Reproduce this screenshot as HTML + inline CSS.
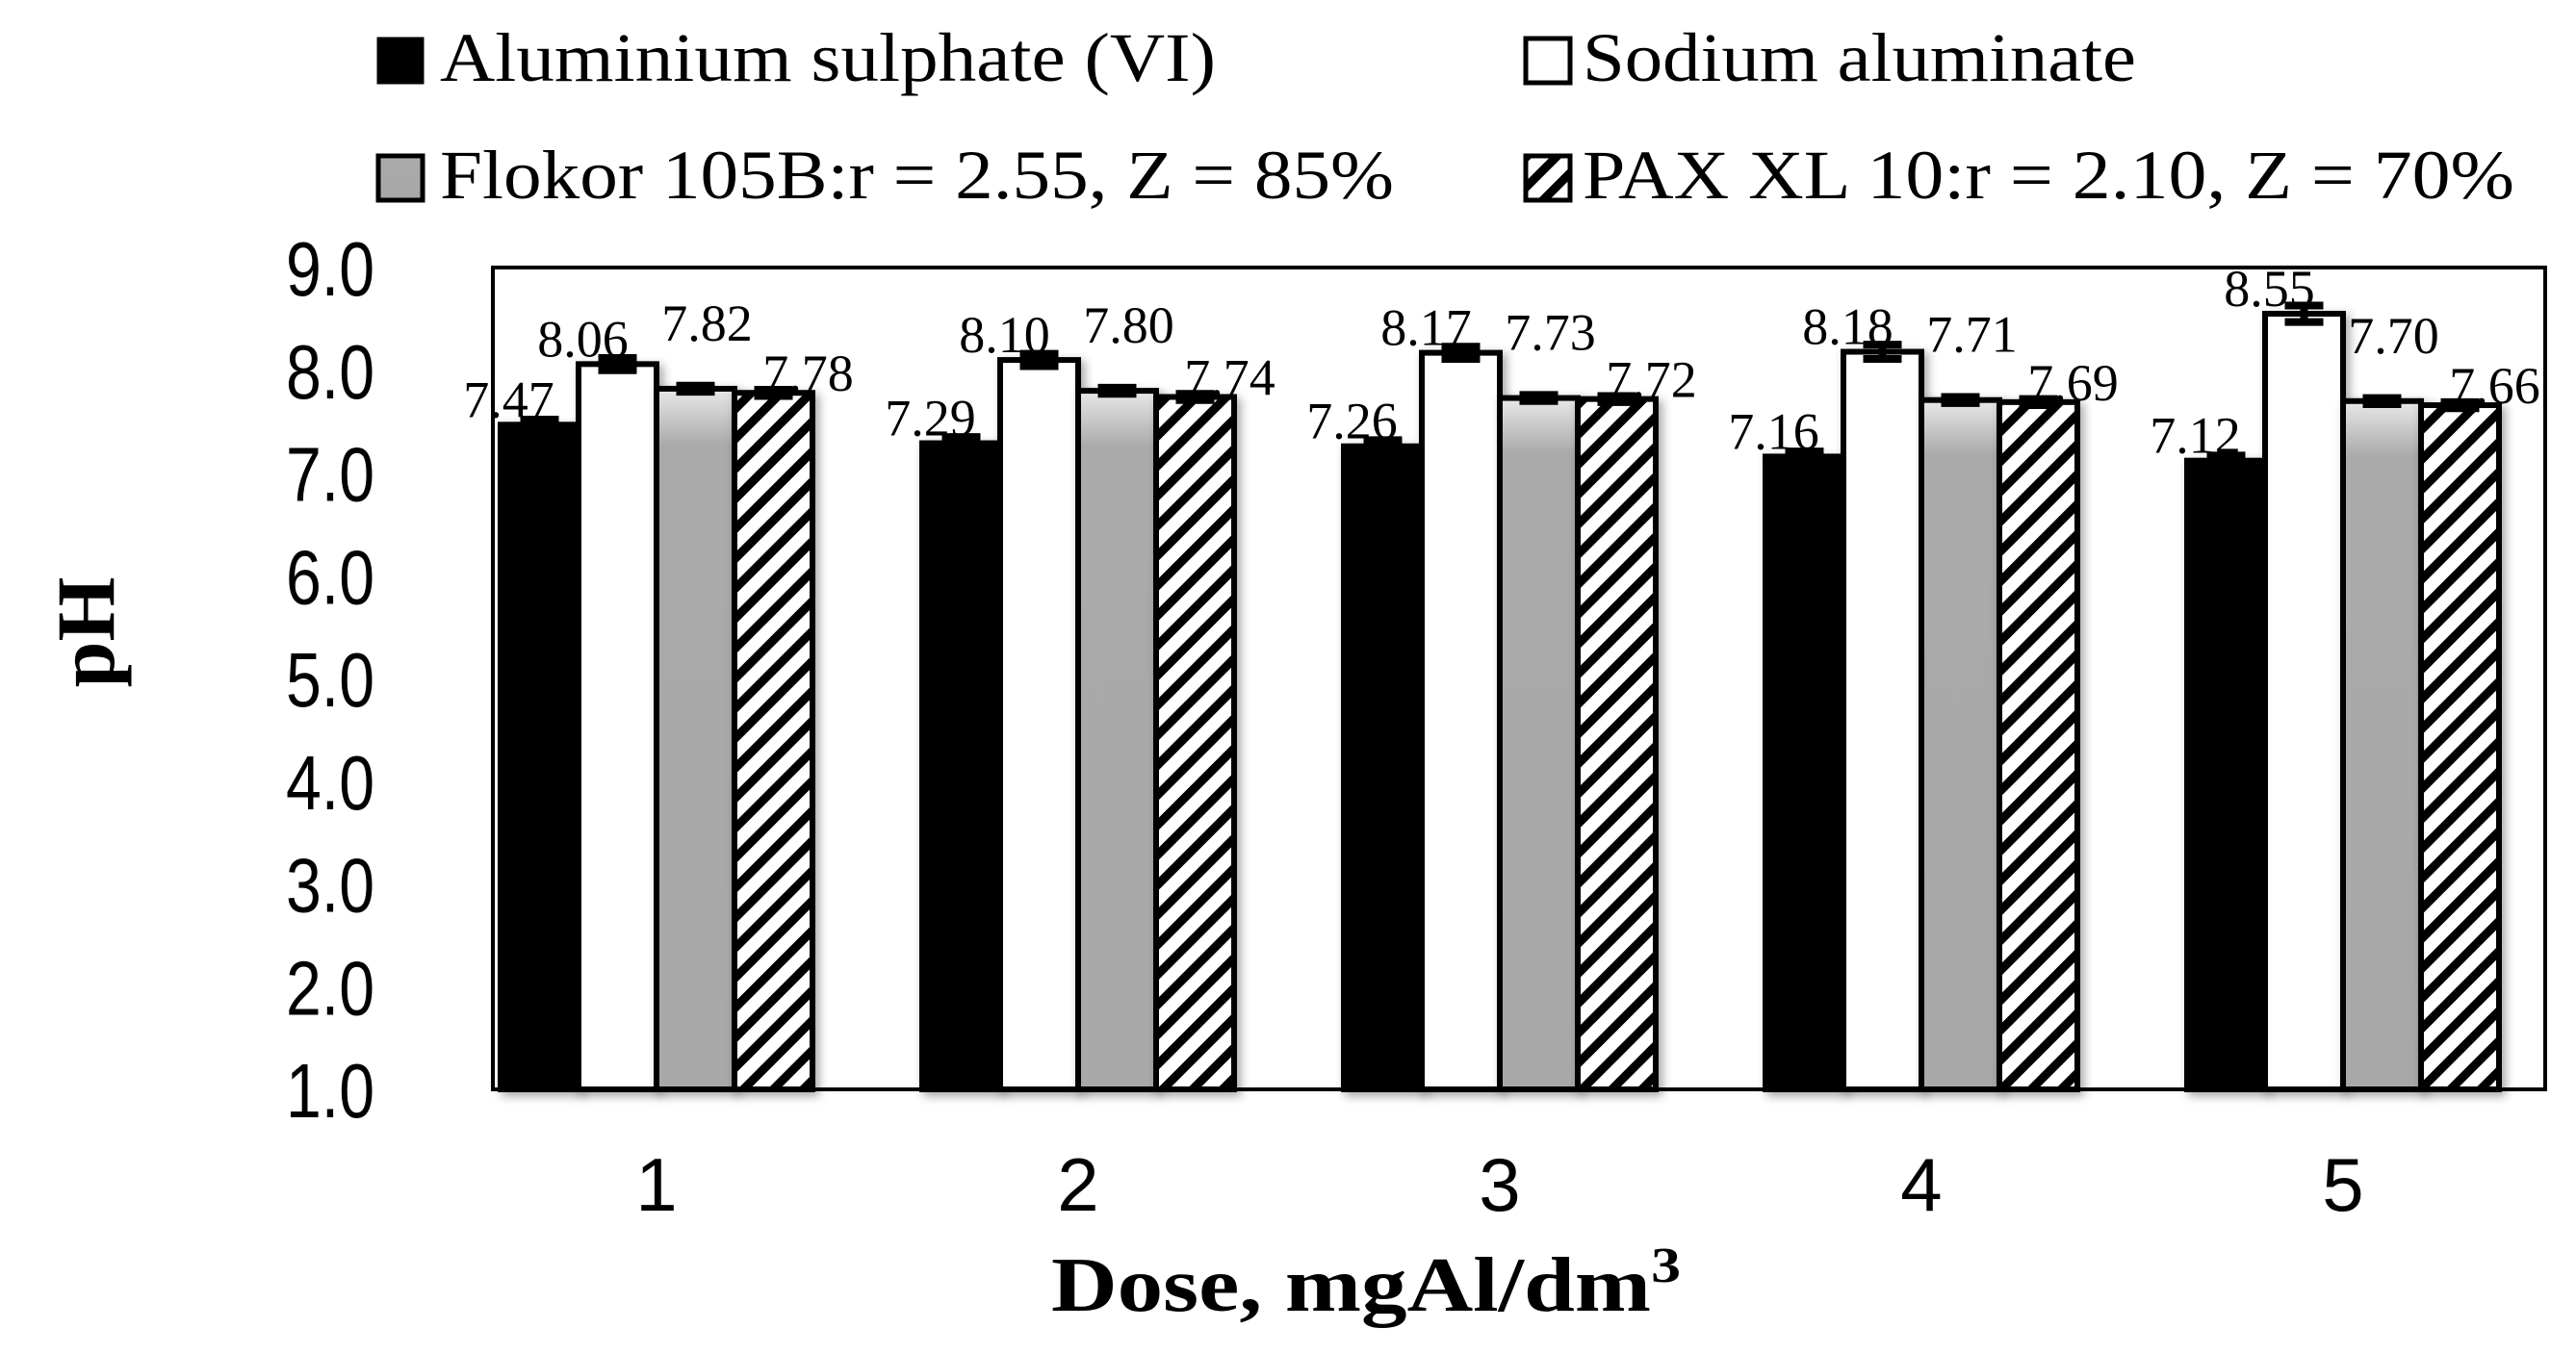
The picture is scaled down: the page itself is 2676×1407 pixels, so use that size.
<!DOCTYPE html>
<html><head><meta charset="utf-8"><style>
html,body{margin:0;padding:0;background:#fff;}
svg{display:block;}
</style></head><body>
<svg id="chart" width="2676" height="1407" viewBox="0 0 2676 1407" xmlns="http://www.w3.org/2000/svg">
<defs>
<pattern id="hatch" patternUnits="userSpaceOnUse" width="22" height="22" patternTransform="rotate(45)">
<rect width="22" height="22" fill="#fff"/>
<rect x="0" y="0" width="9" height="22" fill="#000"/>
</pattern>
<linearGradient id="grayTop" x1="0" y1="0" x2="0" y2="1">
<stop offset="0" stop-color="#e8e8e8"/><stop offset="0.08" stop-color="#aaaaaa"/><stop offset="1" stop-color="#a8a8a8"/>
</linearGradient>
<filter id="shadow" x="-20%" y="-5%" width="140%" height="110%"><feDropShadow dx="4" dy="4" stdDeviation="5" flood-color="#000" flood-opacity="0.35"/></filter>
</defs>
<g id="legend">
<g>
<rect x="393" y="40" width="46" height="46" fill="#000" stroke="#000" stroke-width="3"/>
<text x="457" y="84" font-family="Liberation Serif, serif" font-size="72" textLength="806" lengthAdjust="spacingAndGlyphs">Aluminium sulphate (VI)</text></g>
<g>
<rect x="1585" y="40" width="46" height="46" fill="#fff" stroke="#000" stroke-width="5"/>
<text x="1644" y="84" font-family="Liberation Serif, serif" font-size="72" textLength="575" lengthAdjust="spacingAndGlyphs">Sodium aluminate</text></g>
<g>
<rect x="393" y="162" width="46" height="46" fill="url(#grayTop)" stroke="#000" stroke-width="5"/>
<text x="457" y="206" font-family="Liberation Serif, serif" font-size="72" textLength="991" lengthAdjust="spacingAndGlyphs">Flokor 105B:r = 2.55, Z = 85%</text></g>
<g>
<rect x="1585" y="162" width="46" height="46" fill="url(#hatch)" stroke="#000" stroke-width="5"/>
<text x="1644" y="206" font-family="Liberation Serif, serif" font-size="72" textLength="968" lengthAdjust="spacingAndGlyphs">PAX XL 10:r = 2.10, Z = 70%</text></g>
</g>
<rect x="512" y="278" width="2132" height="854" fill="none" stroke="#000" stroke-width="4"/>
<g id="yaxis"></g>
<g id="xaxis"></g>
<g id="bars"></g>
<text transform="translate(118,657) rotate(-90)" text-anchor="middle" font-family="Liberation Serif, serif" font-weight="bold" font-size="86">pH</text>
<text x="1092" y="1362" font-family="Liberation Serif, serif" font-weight="bold" font-size="80" textLength="654" lengthAdjust="spacingAndGlyphs">Dose, mgAl/dm<tspan font-size="52" dy="-30">3</tspan></text>
</svg>
<script>
const categories = ["1","2","3","4","5"];
const yTicks = [1,2,3,4,5,6,7,8,9];
const seriesNames = ["aluminium-sulphate","sodium-aluminate","flokor-105b","pax-xl-10"];
const alValues = [7.47,7.29,7.26,7.16,7.12];
const naValues = [8.06,8.10,8.17,8.18,8.55];
const flValues = [7.82,7.80,7.73,7.71,7.70];
const paxValues = [7.78,7.74,7.72,7.69,7.66];
const alErr = [0.05,0.06,0.06,0.05,0.05];
const naErr = [0.06,0.06,0.06,0.07,0.08];
const flErr = [0.03,0.03,0.03,0.03,0.03];
const paxErr = [0.03,0.03,0.03,0.03,0.03];

const NS="http://www.w3.org/2000/svg";
const X0=463,X1=2653,Y0=1132,Y1=278,YMIN=1,YMAX=9;
function y(v){return Y0-(v-YMIN)/(YMAX-YMIN)*(Y0-Y1);}
const band=(X1-X0)/categories.length;
function xc(i){return X0+band*(i+0.5);}
const barW=81;
function el(t,a,p){const e=document.createElementNS(NS,t);for(const k in a)e.setAttribute(k,a[k]);p.appendChild(e);return e;}

const ya=document.getElementById('yaxis');
yTicks.forEach(t=>{
  const tx=el('text',{x:389,y:y(t)+29,'text-anchor':'end','font-family':'Liberation Sans, sans-serif','font-size':80,textLength:92,lengthAdjust:'spacingAndGlyphs'},ya);
  
  
  tx.textContent=t.toFixed(1);
});
const xa=document.getElementById('xaxis');
categories.forEach((c,i)=>{
  const tx=el('text',{x:xc(i),y:1258,'text-anchor':'middle','font-family':'Liberation Sans, sans-serif','font-size':78},xa);
  
  
  tx.textContent=c;
});

const all=[alValues,naValues,flValues,paxValues];
const errs=[alErr,naErr,flErr,paxErr];
const fills=['#000','#fff','url(#grayTop)','url(#hatch)'];
const ldx=[-32,-36,12,36], ldy=[-8,-8,-50,-2];
const bg=document.getElementById('bars');
categories.forEach((c,i)=>{
  const gx=xc(i)-2*barW;
  all.forEach((vals,s)=>{
    const v=vals[i], bx=gx+s*barW, top=y(v);
    const r=el('rect',{x:bx,y:top,width:barW,height:Y0-top,fill:fills[s],stroke:'#000','stroke-width':6,filter:'url(#shadow)'},bg);
    
    
    const cx=bx+barW/2, e=errs[s][i];
    const eb=el('path',{d:`M${cx-20},${y(v+e)}H${cx+20}M${cx},${y(v+e)}V${y(v-e)}M${cx-20},${y(v-e)}H${cx+20}`,stroke:'#000','stroke-width':8,fill:'none'},bg);
    
    
    const lb=el('text',{x:cx+ldx[s],y:top+ldy[s],'text-anchor':'middle','font-family':'Liberation Serif, serif','font-size':54},bg);
    
    
    lb.textContent=v.toFixed(2);
  });
});
</script>
</body></html>
